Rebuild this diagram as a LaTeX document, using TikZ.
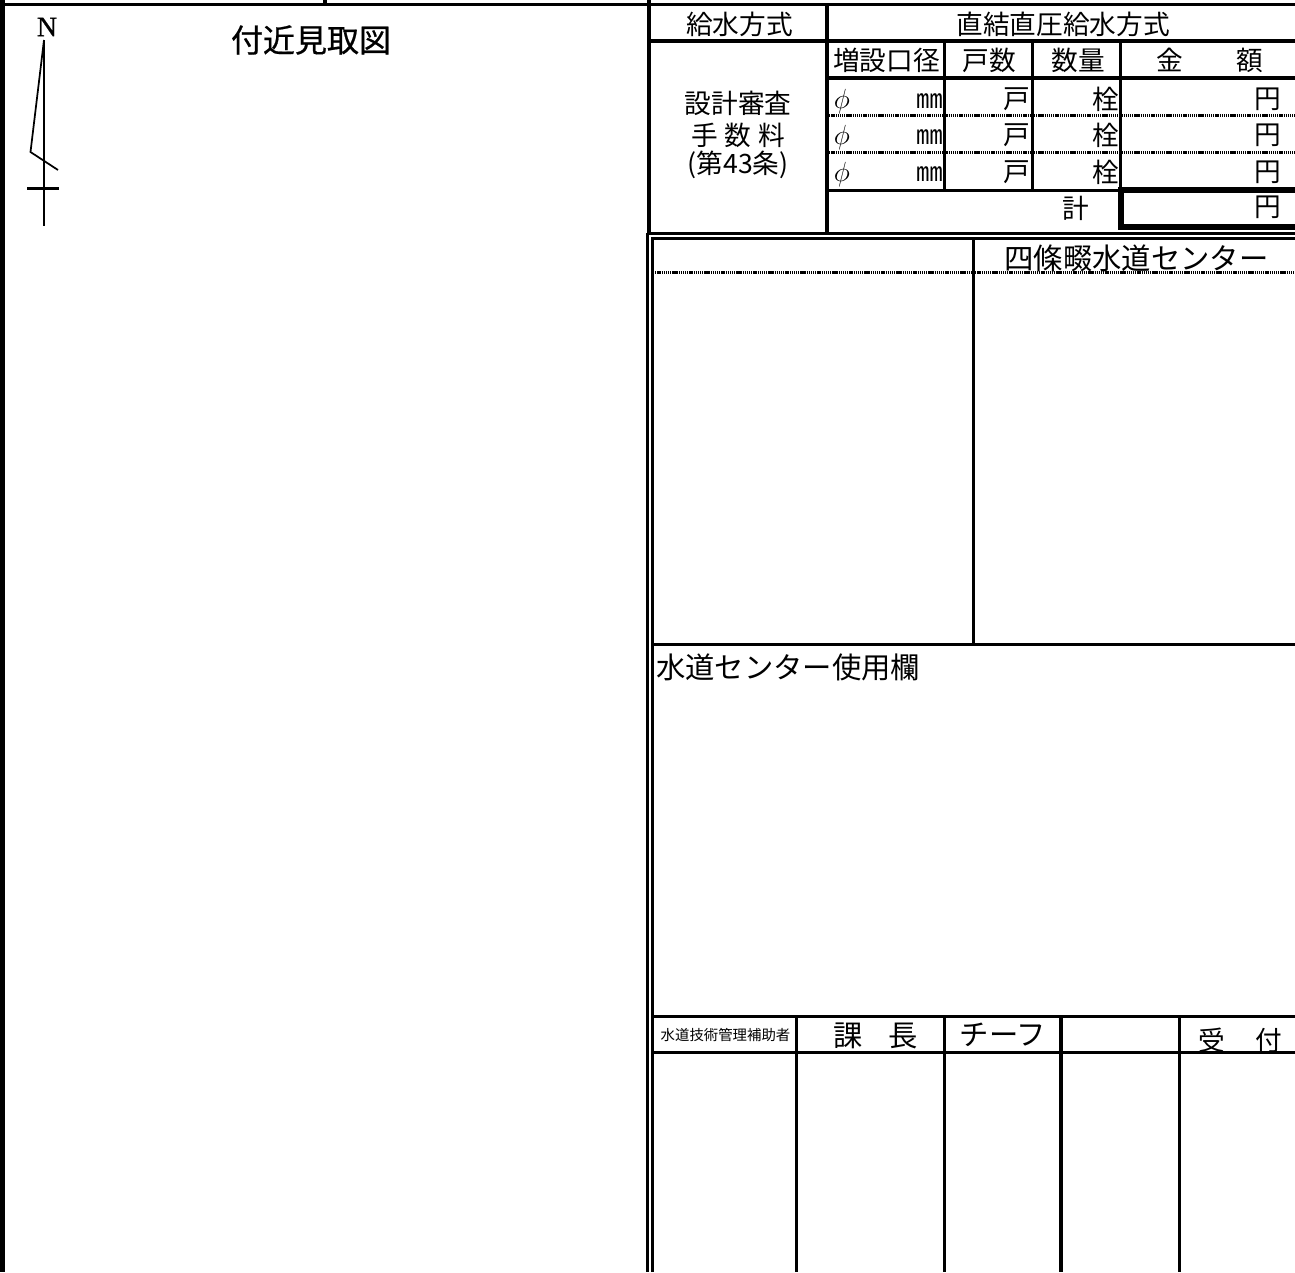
\documentclass[tikz,border=0pt]{standalone}
\usepackage{fontspec}
\newfontfamily\jp{Noto Sans CJK JP}
\newfontfamily\jpb[FakeBold=0.6]{Noto Sans CJK JP}
\newfontfamily\serifn[FakeBold=0.8]{Liberation Serif}
\newcommand{\fs}[1]{\fontsize{#1}{#1}\selectfont}
\tikzset{
 x=0.75pt,y=-0.75pt,
 rule/.style={line width=2.3pt,black},
 thinrule/.style={line width=1.9pt,black},
 heavy/.style={line width=4.5pt,black},
 dots/.style={line width=1.9pt,black,dash pattern=on 1pt off 0.6pt},
 arrowline/.style={line width=1.3pt,black},
 lbl/.style={inner sep=0pt,outer sep=0pt,font=\jp\fs{20},text=black},
 big/.style={lbl,font=\jp\fs{22}},
 rlbl/.style={lbl,anchor=east},
}
\begin{document}
\begin{tikzpicture}
\useasboundingbox[fill=white] (0,0) rectangle (1295,1272);
% frame
\draw[rule] (0,4.3) -- (1295,4.3);
\draw[line width=3.7pt] (2.5,0) -- (2.5,1272);
\draw[rule] (325,0) -- (325,4);
\draw[rule] (649,0) -- (649,234);
\draw[rule] (649,41) -- (1295,41);
\draw[rule] (827,4) -- (827,234);
\draw[rule] (827,78) -- (1295,78);
\draw[rule] (944.5,41) -- (944.5,190);
\draw[rule] (1032.5,41) -- (1032.5,190);
\draw[rule] (1120.5,41) -- (1120.5,190);
\draw[dots] (827,115.5) -- (1295,115.5);
\draw[dots] (827,152.7) -- (1295,152.7);
\draw[rule] (827,190.5) -- (1120,190.5);
\draw[heavy] (1295,189.5) -- (1121,189.5) -- (1121,226.5) -- (1295,226.5);
\draw[rule] (647,233.5) -- (1295,233.5);
\draw[rule] (651,238.5) -- (1295,238.5);
\draw[thinrule] (647.5,233) -- (647.5,1272);
\draw[rule] (652.8,238) -- (652.8,1272);
\draw[rule] (973.5,238) -- (973.5,644);
\draw[dots] (653,272.7) -- (1295,272.7);
\draw[rule] (652,644.5) -- (1295,644.5);
\draw[rule] (652,1016.5) -- (1295,1016.5);
\draw[rule] (652,1052.5) -- (1295,1052.5);
\foreach \vx in {796.8,944.5,1061,1179.7} \draw[rule] (\vx,1016) -- (\vx,1272);
% north mark
\node[inner sep=0pt,font=\serifn\fs{21}] (north) at (47,27) {N};
\coordinate (ntop) at (44,40);
\coordinate (nbot) at (44,226);
\coordinate (nbend) at (30.5,152);
\coordinate (nend) at (58,170);
\draw[arrowline] (ntop) -- (nbot);
\draw[arrowline] (ntop) -- (nbend) -- (nend);
\draw[line width=2.2pt] (27,188.5) -- (59,188.5);
% texts
\node[lbl,font=\jpb\fs{24}] (title) at (311,40) {付近見取図};
\node[lbl] (kyu) at (739.5,24) {給水方式};
\node[lbl] (kyuv) at (1063,24) {直結直圧給水方式};
\node[lbl] (h1) at (886.5,60) {増設口径};
\node[lbl] (h2) at (989.5,60) {戸数};
\node[lbl] (h3) at (1078,60) {数量};
\node[lbl] (h4a) at (1170,60) {金};
\node[lbl] (h4b) at (1250,60) {額};
\node[lbl] (s1) at (738,103) {設計審査};
\node[lbl] (s2) at (738,135) {手\hspace{0.25em}数\hspace{0.25em}料};
\node[lbl] (s3) at (738,165) {(第43条)};
\foreach \n/\ry in {a/99,b/135,c/172}{
 \node[inner sep=0pt,font=\fs{20.74}] (phi\n) at (842,\ry+3) {$\phi$};
 \node[rlbl] (mm\n) at (943.5,\ry+2) {㎜};
 \node[rlbl] (ko\n) at (1030,\ry) {戸};
 \node[rlbl] (sen\n) at (1119,\ry) {栓};
 \node[rlbl] (yen\n) at (1281,\ry) {円};
}
\node[lbl] (kei) at (1076,208) {計};
\node[rlbl] (yent) at (1281,207) {円};
\node[big] (center) at (1136.5,258) {四條畷水道センター};
\node[big] (use) at (788,667) {水道センター使用欄};
\node[lbl,font=\jp\fs{10.8}] (hojo) at (725.5,1035) {水道技術管理補助者};
\node[big] (ka) at (848,1036) {課};
\node[big] (cho) at (903,1036) {長};
\node[big] (chief) at (1003,1035) {チーフ};
\node[lbl] (uke) at (1212,1040) {受};
\node[lbl] (tsuke) at (1269,1040) {付};
\end{tikzpicture}
\end{document}
